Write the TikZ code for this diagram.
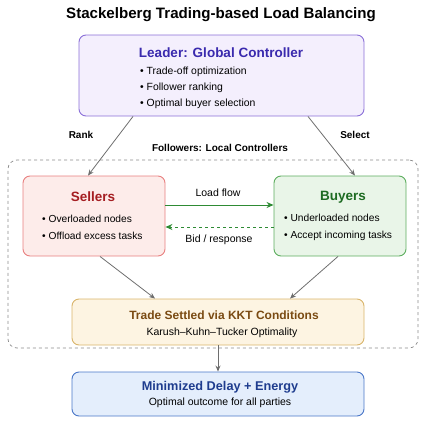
\documentclass[tikz,border=0pt]{standalone}
\usepackage{fontspec}
\setmainfont{Liberation Sans}
\usetikzlibrary{arrows.meta,calc}
\definecolor{lbd}{HTML}{8A6FD8}\definecolor{lbf}{HTML}{F4EFFD}\definecolor{lbt}{HTML}{3A2AAE}
\definecolor{sbd}{HTML}{E88080}\definecolor{sbf}{HTML}{FDECEA}\definecolor{sbt}{HTML}{A51E22}
\definecolor{bbd}{HTML}{5DAE5F}\definecolor{bbf}{HTML}{E9F5E8}\definecolor{bbt}{HTML}{1D6B22}
\definecolor{kbd}{HTML}{D9B46A}\definecolor{kbf}{HTML}{FDF4E2}\definecolor{kbt}{HTML}{7A4A12}
\definecolor{mbd}{HTML}{4A77C8}\definecolor{mbf}{HTML}{E4EEFC}\definecolor{mbt}{HTML}{1E3C8E}
\definecolor{arr}{HTML}{6E6E6E}\definecolor{grn}{HTML}{2E8B34}
\tikzset{
  boxstyle/.style={rounded corners=7pt, line width=0.9pt, inner sep=0pt},
  ttl/.style={font=\bfseries\fontsize{13.5}{15}\selectfont, inner sep=0pt},
  bul/.style={font=\fontsize{10.4}{16}\selectfont, align=left, anchor=west, inner sep=0pt},
  bulb/.style={font=\fontsize{10.2}{17}\selectfont, align=left, anchor=west, inner sep=0pt},
  sub/.style={font=\fontsize{10.5}{12}\selectfont, inner sep=0pt},
  lbl/.style={font=\bfseries\fontsize{10}{12}\selectfont, inner sep=0pt},
  conn/.style={draw=arr, line width=0.8pt, -{Stealth[length=6pt,width=5pt]}},
}
\begin{document}
\begin{tikzpicture}[x=1pt,y=-1pt]
\useasboundingbox (0,0) rectangle (424,424);
\node[font=\bfseries\fontsize{15.1}{18}\selectfont, inner sep=0pt] (title) at (221,15) {Stackelberg Trading-based Load Balancing};
% dashed follower region
\node[draw=arr!80, dashed, line width=0.7pt, rounded corners=9pt, minimum width=410pt, minimum height=188pt, inner sep=0pt] (followers) at (213,254) {};
\node[lbl] (flabel) at (220,148) {Followers: Local Controllers};
% leader
\node[boxstyle, draw=lbd, fill=lbf, minimum width=285pt, minimum height=81pt] (leader) at (221.5,75.5) {};
\node[ttl, text=lbt] (leadert) at (221,53) {Leader: Global Controller};
\node[bul] (leaderb) at (140,88) {• Trade-off optimization\\• Follower ranking\\• Optimal buyer selection};
% sellers
\node[boxstyle, draw=sbd, fill=sbf, minimum width=142pt, minimum height=80pt] (sellers) at (94,216) {};
\node[ttl, text=sbt] (sellerst) at (93,197) {Sellers};
\node[bulb] (sellersb) at (42,227.5) {• Overloaded nodes\\• Offload excess tasks};
% buyers
\node[boxstyle, draw=bbd, fill=bbf, minimum width=132pt, minimum height=80pt] (buyers) at (340,216) {};
\node[ttl, text=bbt] (buyerst) at (343,197) {Buyers};
\node[bulb] (buyersb) at (284,227.5) {• Underloaded nodes\\• Accept incoming tasks};
% KKT
\node[boxstyle, draw=kbd, fill=kbf, minimum width=292pt, minimum height=46pt] (kkt) at (218,322) {};
\node[ttl, text=kbt, font=\bfseries\fontsize{12}{14}\selectfont] (kktt) at (224,315) {Trade Settled via KKT Conditions};
\node[sub] (kkts) at (222,333) {Karush–Kuhn–Tucker Optimality};
% result
\node[boxstyle, draw=mbd, fill=mbf, minimum width=292pt, minimum height=44pt] (res) at (218,394) {};
\node[ttl, text=mbt, font=\bfseries\fontsize{12.7}{14}\selectfont] (rest) at (220,387) {Minimized Delay + Energy};
\node[sub] (ress) at (220,403) {Optimal outcome for all parties};
% connectors
\draw[conn] ([xshift=-88.5pt]leader.south) -- ([xshift=-6pt]sellers.north);
\draw[conn] ([xshift=86.5pt]leader.south) -- ([xshift=15pt]buyers.north);
\node[lbl] (rank) at (81,135) {Rank};
\node[lbl] (select) at (355,135) {Select};
\draw[draw=grn, line width=1pt, -{Stealth[length=7pt,width=6pt]}] ([yshift=11pt]sellers.east) -- ([yshift=11pt]buyers.west);
\draw[draw=grn, line width=1pt, dashed, -{Stealth[length=7pt,width=6pt]}] ([yshift=-11pt]buyers.west) -- ([yshift=-11pt]sellers.east);
\node[sub] (loadflow) at (218,193) {Load flow};
\node[sub] (bid) at (219,240) {Bid / response};
\draw[conn] ([xshift=6pt]sellers.south) -- ([xshift=-63pt]kkt.north);
\draw[conn] ([xshift=-2pt]buyers.south) -- ([xshift=72pt]kkt.north);
\draw[conn] (kkt.south) -- (res.north);
\end{tikzpicture}
\end{document}
